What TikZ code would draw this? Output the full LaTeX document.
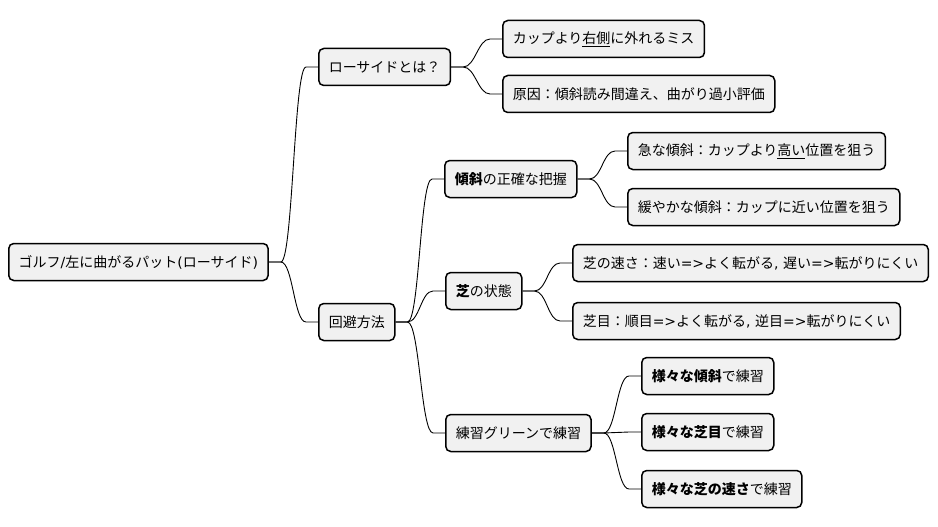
\documentclass[tikz,border=0pt]{standalone}
\usepackage{fontspec}
\setmainfont{Noto Sans CJK JP}
\newfontfamily\lat{DejaVu Sans}
\usetikzlibrary{calc}
\definecolor{boxfill}{HTML}{F1F1F1}
\begin{document}
\begin{tikzpicture}[x=1pt,y=-1pt,font=\fontsize{14}{16}\selectfont,
	topic/.style={draw,line width=1.5pt,fill=boxfill,rounded corners=5pt,minimum height=37pt,inner xsep=10pt,anchor=west},
	branch/.style={line width=0.9pt,to path={-- ($(\tikztostart)+(12,0)$) .. controls ($(\tikztostart)+(24,0)$) and ($(\tikztotarget)+(-24,0)$) .. ($(\tikztotarget)+(-12,0)$) -- (\tikztotarget)}}]
	\useasboundingbox (0,0) rectangle (938,527);
	
	\node[topic] (root) at (8,262) {ゴルフ{\lat/}左に曲がるパット{\lat(}ローサイド{\lat)}};
	\node[topic] (what) at (318,67)  {ローサイドとは？};
	\node[topic] (miss) at (502,39)  {カップより\underline{右側}に外れるミス};
	\node[topic] (cause) at (502,94) {原因：傾斜読み間違え、曲がり過小評価};
	\node[topic] (avoid) at (318,322) {回避方法};
	\node[topic] (slope) at (444,179) {\textbf{傾斜}の正確な把握};
	\node[topic] (steep) at (627,151) {急な傾斜：カップより\underline{高い}位置を狙う};
	\node[topic] (gentle) at (627,207) {緩やかな傾斜：カップに近い位置を狙う};
	\node[topic] (turf) at (445,291) {\textbf{芝}の状態};
	\node[topic] (speed) at (572,263) {芝の速さ：速い{\lat=>}よく転がる{\lat, }遅い{\lat=>}転がりにくい};
	\node[topic] (grain) at (572,321) {芝目：順目{\lat=>}よく転がる{\lat, }逆目{\lat=>}転がりにくい};
	\node[topic] (green) at (445,433) {練習グリーンで練習};
	\node[topic] (p1) at (641,376) {\textbf{様々な傾斜}で練習};
	\node[topic] (p2) at (641,432) {\textbf{様々な芝目}で練習};
	\node[topic] (p3) at (641,489) {\textbf{様々な芝の速さ}で練習};
	
	\path (root.east) edge [branch] (what.west);
	\path (root.east) edge [branch] (avoid.west);
	\path (what.east) edge [branch] (miss.west);
	\path (what.east) edge [branch] (cause.west);
	\path (avoid.east) edge [branch] (slope.west);
	\path (avoid.east) edge [branch] (turf.west);
	\path (avoid.east) edge [branch] (green.west);
	\path (slope.east) edge [branch] (steep.west);
	\path (slope.east) edge [branch] (gentle.west);
	\path (turf.east) edge [branch] (speed.west);
	\path (turf.east) edge [branch] (grain.west);
	\path (green.east) edge [branch] (p1.west);
	\path (green.east) edge [branch] (p2.west);
	\path (green.east) edge [branch] (p3.west);
\end{tikzpicture}
\end{document}
